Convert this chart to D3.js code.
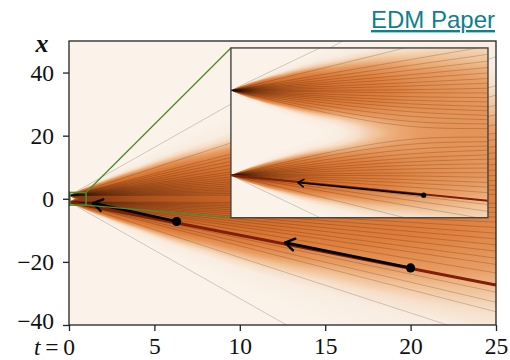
<!DOCTYPE html>
<html>
<head>
<meta charset="utf-8">
<script src="https://cdn.jsdelivr.net/npm/d3@7"></script>
<style>
  html, body { margin: 0; padding: 0; background: #fff; }
  svg { display: block; }
  .ticklab, .tick text { font-family: "Liberation Serif", "DejaVu Serif", serif; font-size: 23.5px; fill: #111; }
</style>
</head>
<body>
<svg id="chart" width="510" height="360"></svg>
<script>
/* ---------- values ---------- */
const dataPoints = [-1, 1];                 // the two samples the flow starts from
const tTicks = [0, 5, 10, 15, 20, 25];
const xTicks = [-40, -20, 0, 20, 40];

// big panel: straight trajectories, x reached at t = 25
const fanEnds = [-77.5, -45, -35.8, -32.8, -29.6, -23.5, -20.8, -18.8, -16.6, -14.6, -12.7, -10.9, -9.1, -7.4, -5.8, -4.3, -2.8, -1.4,
                 1.4, 2.8, 4.3, 5.8, 7.4, 9.1, 10.9, 12.7, 14.6, 16.6, 18.8, 20.8, 23.5, 26.6, 29.6, 32.8, 35.8, 45, 77.5];
// highlighted trajectory (big panel)
const pathStart = -1, pathEnd = -27.3;
// denoising steps: dot (from) -> arrow tip (to)
const stepFromT = [20, 6.3], stepFromX = [-21.9, -7.2];
const stepToT = [12.65, 1.4], stepToX = [-13.9, -1.4];

// inset: start sample, initial slope, x reached at the right edge (t = 1)
const insetFrom  = [1, 1, 1, 1, 1, 1, 1, 1, 1, 1, 1, 1, 1, 1, 1, 1, 1, 1, 1,
                    -1, -1, -1, -1, -1, -1, -1, -1, -1, -1, -1, -1, -1, -1, -1, -1, -1, -1];
const insetSlope = [-1.65, -1.28, -1.04, -0.84, -0.67, -0.52, -0.39, -0.25, -0.13, 0, 0.13, 0.25, 0.39, 0.52, 0.67, 0.84, 1.04, 1.46, 2.88,
                    1.65, 1.28, 1.04, 0.84, 0.67, 0.52, 0.39, 0.25, 0.13, 0, -0.13, -0.25, -0.39, -0.67, -0.84, -1.04, -1.46, -2.88];
const insetEnd   = [0.10, 0.21, 0.31, 0.41, 0.52, 0.62, 0.73, 0.83, 0.94, 1.05, 1.17, 1.28, 1.41, 1.54, 1.69, 1.85, 2.04, 2.5, 3.9,
                    -0.10, -0.21, -0.31, -0.41, -0.52, -0.62, -0.73, -0.83, -0.94, -1.05, -1.17, -1.28, -1.41, -1.69, -1.85, -2.04, -2.5, -3.9];
// highlighted trajectory in the inset
const insetPathSlope = -0.6, insetPathEnd = -1.6;
const insetStepFromT = [0.75], insetStepFromX = [-1.47];
const insetStepToT = [0.26], insetStepToX = [-1.17];

// density shading: fall-off with distance (in sigmas) and level along t
const shadeZ = [0, 0.5, 1, 1.5, 2, 2.5, 3, 3.5, 4, 6];
const shadeZLevel = [0, -0.13, -0.5, -1.12, -2, -3.13, -4.5, -6.1, -8, -18];
const mainShadeT = [0.05, 0.2, 0.5, 1, 2, 4, 8, 15, 25];
const mainShadeLevel = [3.0, 1.6, 0.7, 0, -0.69, -1.39, -2.08, -2.71, -3.22];
const insetShadeT = [0.002, 0.02, 0.05, 0.1, 0.2, 0.4, 0.7, 1];
const insetShadeLevel = [3.2, 0.94, 0.03, -0.67, -1.36, -2.05, -2.61, -2.97];

/* ---------- colour ramp for the shading ---------- */
const shadeStops   = [-6.5, -4.7, -4.25, -3.9, -3.6, -3.2, -2.6, -1.8, -0.8, 0.5];
const shadeColours = ["#fbf3ea", "#f9ede1", "#f6dfc9", "#f0c195", "#e89c62", "#df803e", "#d36d2b", "#b6571e", "#913f15", "#6e2a0a"];

/* ---------- layout ---------- */
const svg = d3.select("#chart");
const plot = { left: 69, right: 496, top: 41, bottom: 325 };
const t = d3.scaleLinear().domain([0, 25]).range([plot.left, plot.right]);
const x = d3.scaleLinear().domain([-40, 50]).range([plot.bottom, plot.top]);

// where the inset sits, in the big panel's coordinates
const insetBox = { t0: 9.48, t1: 24.53, x0: -6.0, x1: 47.8 };
const it = d3.scaleLinear().domain([0, 1]).range([t(insetBox.t0), t(insetBox.t1)]);
const ix = d3.scaleLinear().domain([-2, 2]).range([x(insetBox.x0), x(insetBox.x1)]);

const zLevel = d3.scaleLinear().domain(shadeZ).range(shadeZLevel).clamp(true);
const colourOf = d3.scaleLinear().domain(shadeStops).range(shadeColours).clamp(true);
const lut = d3.range(801).map(i => d3.rgb(colourOf(-7 + i * 0.01)));

function paintField(ts, xs, tLevel) {
  const px0 = ts.range()[0], px1 = ts.range()[1];
  const py0 = xs.range()[1], py1 = xs.range()[0];
  const w = Math.round(px1 - px0), h = Math.round(py1 - py0);
  const cv = document.createElement("canvas");
  cv.width = w; cv.height = h;
  const ctx = cv.getContext("2d");
  const img = ctx.createImageData(w, h);
  for (let i = 0; i < w; i++) {
    const tv = ts.invert(px0 + i + 0.5);
    const lv = tLevel(tv);
    for (let j = 0; j < h; j++) {
      const xv = xs.invert(py0 + j + 0.5);
      let s = 0;
      dataPoints.forEach(m => { s += 0.5 * Math.exp(zLevel(Math.abs(xv - m) / tv)); });
      const u = lv + Math.log(s);
      const c = lut[Math.max(0, Math.min(800, Math.round((u + 7) * 100)))];
      const k = (j * w + i) * 4;
      img.data[k] = c.r; img.data[k + 1] = c.g; img.data[k + 2] = c.b; img.data[k + 3] = 255;
    }
  }
  ctx.putImageData(img, 0, 0);
  return { href: cv.toDataURL(), x: px0, y: py0, w, h };
}

const defs = svg.append("defs");
defs.append("clipPath").attr("id", "clipMain").append("rect")
  .attr("x", plot.left).attr("y", plot.top)
  .attr("width", plot.right - plot.left).attr("height", plot.bottom - plot.top);
defs.append("clipPath").attr("id", "clipInset").append("rect")
  .attr("x", it(0)).attr("y", ix(2))
  .attr("width", it(1) - it(0)).attr("height", ix(-2) - ix(2));

function arrowHead(g, tip, from, len, width) {
  const dx = tip[0] - from[0], dy = tip[1] - from[1];
  const n = Math.hypot(dx, dy), ux = dx / n, uy = dy / n;
  const a = Math.PI / 5.5;
  [a, -a].forEach(r => {
    const rx = ux * Math.cos(r) - uy * Math.sin(r), ry = ux * Math.sin(r) + uy * Math.cos(r);
    g.append("line")
      .attr("x1", tip[0]).attr("y1", tip[1])
      .attr("x2", tip[0] - rx * len).attr("y2", tip[1] - ry * len)
      .attr("stroke", "#000").attr("stroke-width", width).attr("stroke-linecap", "round");
  });
}

/* ---------- big panel ---------- */
const mainField = paintField(t, x, d3.scaleLinear().domain(mainShadeT).range(mainShadeLevel).clamp(true));
svg.append("image").attr("href", mainField.href)
  .attr("x", mainField.x).attr("y", mainField.y)
  .attr("width", mainField.w).attr("height", mainField.h)
  .attr("preserveAspectRatio", "none");

const gMain = svg.append("g").attr("clip-path", "url(#clipMain)");
gMain.selectAll("line.fan").data(fanEnds).join("line")
  .attr("class", "fan")
  .attr("x1", t(0)).attr("y1", d => x(d < 0 ? dataPoints[0] : dataPoints[1]))
  .attr("x2", t(25)).attr("y2", d => x(d))
  .attr("stroke", "#000").attr("stroke-opacity", 0.2).attr("stroke-width", 0.9);

gMain.append("line")
  .attr("x1", t(0)).attr("y1", x(pathStart)).attr("x2", t(25)).attr("y2", x(pathEnd))
  .attr("stroke", "#7e1f06").attr("stroke-width", 3);

stepFromT.forEach((d, i) => {
  const from = [t(d), x(stepFromX[i])], tip = [t(stepToT[i]), x(stepToX[i])];
  gMain.append("line").attr("x1", from[0]).attr("y1", from[1]).attr("x2", tip[0]).attr("y2", tip[1])
    .attr("stroke", "#000").attr("stroke-width", 2.8);
  arrowHead(gMain, tip, from, 11, 2.4);
  gMain.append("circle").attr("cx", from[0]).attr("cy", from[1]).attr("r", 4.6).attr("fill", "#000");
});

/* ---------- zoom box and connectors ---------- */
const green = "#4f8a2c";
svg.append("rect")
  .attr("x", t(0) + 0.8).attr("y", x(2))
  .attr("width", t(1) - t(0) - 0.8).attr("height", x(-2) - x(2))
  .attr("fill", "none").attr("stroke", green).attr("stroke-width", 1.6);
svg.append("line").attr("x1", t(1)).attr("y1", x(2)).attr("x2", it(0)).attr("y2", ix(2))
  .attr("stroke", green).attr("stroke-width", 1.3);
svg.append("line").attr("x1", t(1)).attr("y1", x(-2)).attr("x2", it(0)).attr("y2", ix(-2))
  .attr("stroke", green).attr("stroke-width", 1.3);

/* ---------- inset ---------- */
const insetField = paintField(it, ix, d3.scaleLinear().domain(insetShadeT).range(insetShadeLevel).clamp(true));
svg.append("image").attr("href", insetField.href)
  .attr("x", insetField.x).attr("y", insetField.y)
  .attr("width", insetField.w).attr("height", insetField.h)
  .attr("preserveAspectRatio", "none");

function insetCurve(x0, slope, xEnd) {
  let p1v = x0 + 0.6 * slope;
  if ((p1v - xEnd) * Math.sign(slope) > 0) p1v = xEnd;
  const p2t = 0.6 + 0.25 * 0.4, p2v = p1v + 0.25 * (xEnd - p1v);
  const p = d3.path();
  p.moveTo(it(0), ix(x0));
  p.bezierCurveTo(it(0.6), ix(p1v), it(p2t), ix(p2v), it(1), ix(xEnd));
  return p.toString();
}

const gInset = svg.append("g").attr("clip-path", "url(#clipInset)");
gInset.selectAll("path.traj").data(insetFrom).join("path")
  .attr("class", "traj")
  .attr("d", (d, i) => insetCurve(d, insetSlope[i], insetEnd[i]))
  .attr("fill", "none").attr("stroke", "#000").attr("stroke-opacity", 0.2).attr("stroke-width", 0.9);

gInset.append("path")
  .attr("d", insetCurve(pathStart, insetPathSlope, insetPathEnd))
  .attr("fill", "none").attr("stroke", "#7e1f06").attr("stroke-width", 1.8);

insetStepFromT.forEach((d, i) => {
  const from = [it(d), ix(insetStepFromX[i])], tip = [it(insetStepToT[i]), ix(insetStepToX[i])];
  gInset.append("line").attr("x1", from[0]).attr("y1", from[1]).attr("x2", tip[0]).attr("y2", tip[1])
    .attr("stroke", "#000").attr("stroke-width", 1.7);
  arrowHead(gInset, tip, from, 7, 1.5);
  gInset.append("circle").attr("cx", from[0]).attr("cy", from[1]).attr("r", 2.6).attr("fill", "#000");
});

svg.append("rect")
  .attr("x", it(0)).attr("y", ix(2))
  .attr("width", it(1) - it(0)).attr("height", ix(-2) - ix(2))
  .attr("fill", "none").attr("stroke", "#444").attr("stroke-width", 1.4);

/* ---------- frame and axes ---------- */
svg.append("rect")
  .attr("x", plot.left).attr("y", plot.top)
  .attr("width", plot.right - plot.left).attr("height", plot.bottom - plot.top)
  .attr("fill", "none").attr("stroke", "#222").attr("stroke-width", 1.3);

const fmt = d => (d < 0 ? "\u2212" + Math.abs(d) : String(d));

const yAxis = svg.append("g").attr("transform", `translate(${plot.left},0)`)
  .call(d3.axisLeft(x).tickValues(xTicks).tickSize(6).tickPadding(9).tickFormat(fmt));
const xAxis = svg.append("g").attr("transform", `translate(0,${plot.bottom})`)
  .call(d3.axisBottom(t).tickValues(tTicks).tickSize(6).tickPadding(6).tickFormat(d => d === 0 ? "" : fmt(d)));
[yAxis, xAxis].forEach(a => {
  a.select(".domain").remove();
  a.selectAll(".tick line").attr("stroke", "#222").attr("stroke-width", 1.3);
  a.selectAll(".tick text").attr("font-family", null).attr("font-size", null);
});
// lift the lowest y label a little so it clears the t = 0 label below it
yAxis.selectAll(".tick").filter(d => d === xTicks[0]).select("text").attr("y", -4);

const zeroLab = svg.append("text").attr("class", "ticklab")
  .attr("x", t(0) + 6).attr("y", plot.bottom + 29.8).attr("text-anchor", "end");
zeroLab.append("tspan").attr("font-style", "italic").text("t");
zeroLab.append("tspan").text("\u2009=\u20090");

svg.append("text")
  .attr("x", 42).attr("y", 52).attr("text-anchor", "middle")
  .attr("font-family", "'Liberation Serif', serif").attr("font-size", 26)
  .attr("font-style", "italic").attr("font-weight", "bold").attr("fill", "#111")
  .text("x");

svg.append("text")
  .attr("x", 495).attr("y", 28).attr("text-anchor", "end")
  .attr("font-family", "'Liberation Sans', Arial, sans-serif").attr("font-size", 24)
  .attr("fill", "#0f7f8c").attr("text-decoration", "underline")
  .text("EDM Paper");
</script>
</body>
</html>
